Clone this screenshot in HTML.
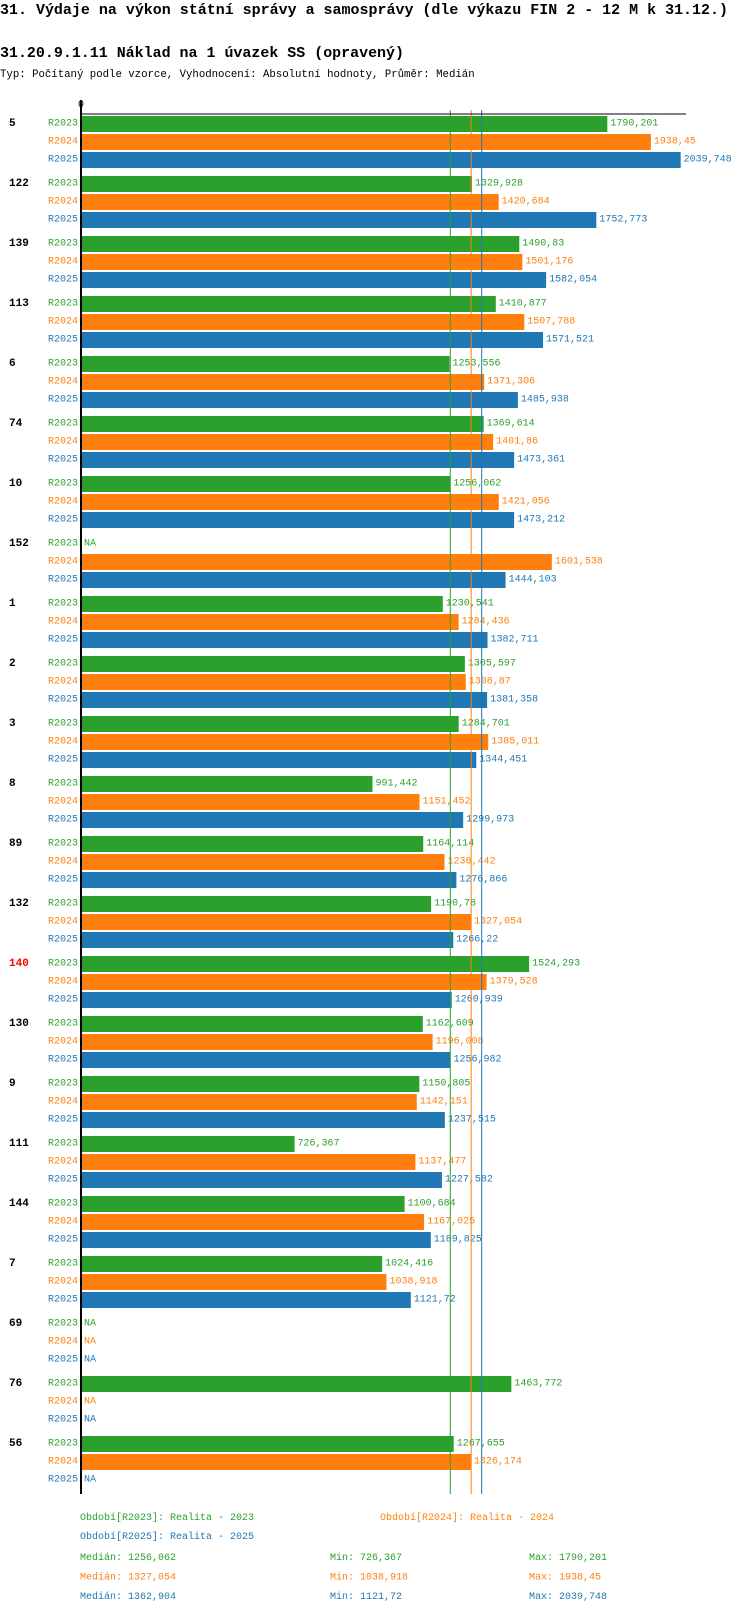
<!DOCTYPE html>
<html><head><meta charset="utf-8"><style>
html,body{margin:0;padding:0;background:#fff;}
svg{display:block;font-family:"Liberation Mono","DejaVu Sans Mono",monospace;}
</style></head><body>
<svg id="chart" width="750" height="1614" viewBox="0 0 750 1614">
<text x="0" y="14" font-size="15" font-weight="bold" textLength="728" lengthAdjust="spacingAndGlyphs">31. Výdaje na výkon státní správy a samosprávy (dle výkazu FIN 2 - 12 M k 31.12.)</text>
<text x="0" y="57" font-size="15" font-weight="bold" textLength="404" lengthAdjust="spacingAndGlyphs">31.20.9.1.11 Náklad na 1 úvazek SS (opravený)</text>
<text x="0" y="77" font-size="10.7">Typ: Počítaný podle vzorce, Vyhodnocení: Absolutní hodnoty, Průměr: Medián</text>
<text x="81" y="107" font-size="10" text-anchor="middle">0</text>
<g id="bars"></g>
<g id="legend"></g>
</svg>
<script>
const groups=["5","122","139","113","6","74","10","152","1","2","3","8","89","132","140","130","9","111","144","7","69","76","56"];
const r2023=[1790.201,1329.928,1490.83,1410.877,1253.556,1369.614,1256.062,null,1230.541,1305.597,1284.701,991.442,1164.114,1190.78,1524.293,1162.609,1150.805,726.367,1100.684,1024.416,null,1463.772,1267.655];
const r2024=[1938.45,1420.684,1501.176,1507.788,1371.306,1401.86,1421.056,1601.538,1284.436,1308.87,1385.011,1151.452,1236.442,1327.054,1379.528,1196.008,1142.151,1137.477,1167.025,1038.918,null,null,1326.174];
const r2025=[2039.748,1752.773,1582.054,1571.521,1485.938,1473.361,1473.212,1444.103,1382.711,1381.358,1344.451,1299.973,1276.866,1266.22,1260.939,1256.982,1237.515,1227.582,1189.825,1121.72,null,null,null];
const seriesNames=["R2023","R2024","R2025"];
const medians=[1256.062,1327.054,1362.904];
const mins=[726.367,1038.918,1121.72];
const maxs=[1790.201,1938.45,2039.748];
const highlighted=["140"];

const colors=["#2ca02c","#ff7f0e","#1f77b4"];
const X0=81,SCALE=0.294,TOP=116,GROUP=60,ROW=18,BARH=16;
const xs=v=>X0+v*SCALE;
const NS="http://www.w3.org/2000/svg";
const g=document.getElementById('bars');
const leg=document.getElementById('legend');
function mk(tag,attrs,parent){const e=document.createElementNS(NS,tag);for(const k in attrs)e.setAttribute(k,attrs[k]);parent.appendChild(e);return e;}
const fmt=v=>String(v).replace('.',',');
const series=[r2023,r2024,r2025];
const bottom=TOP+groups.length*GROUP-2;

groups.forEach((name,gi)=>{
  const gy=TOP+gi*GROUP;
  const t=mk('text',{x:9,y:gy+8,'font-size':11,'font-weight':'bold','dominant-baseline':'central',fill:highlighted.includes(name)?'#ff0000':'#000'},g);
  t.textContent=name;
  
  
  series.forEach((arr,si)=>{
    const y=gy+si*ROW;
    const lab=mk('text',{x:78,y:y+8,'font-size':10,'text-anchor':'end','dominant-baseline':'central',fill:colors[si]},g);
    lab.textContent=seriesNames[si];
    
    
    const v=arr[gi];
    if(v==null){
      const na=mk('text',{x:84,y:y+8,'font-size':10,'dominant-baseline':'central',fill:colors[si]},g);
      na.textContent='NA';
      
      
    }else{
      const r=mk('rect',{x:X0,y:y,width:xs(v)-X0,height:BARH,fill:colors[si]},g);
      
      
      const vl=mk('text',{x:xs(v)+3,y:y+8,'font-size':10,'dominant-baseline':'central',fill:colors[si]},g);
      vl.textContent=fmt(v);
      
      
    }
  });
});
medians.forEach((m,i)=>{
  const l=mk('line',{x1:xs(m),x2:xs(m),y1:TOP-6,y2:bottom,stroke:colors[i],'stroke-width':1},g);
  
  
});
const ax=mk('line',{x1:81,x2:81,y1:100,y2:bottom,stroke:'#000','stroke-width':2},g);


const tl=mk('line',{x1:80,x2:686,y1:114,y2:114,stroke:'#000','stroke-width':1},g);



const legItems=[[80,1520,0,"Období[R2023]: Realita - 2023"],[380,1520,1,"Období[R2024]: Realita - 2024"],[80,1539,2,"Období[R2025]: Realita - 2025"]];
legItems.forEach(it=>{
  const t=mk('text',{x:it[0],y:it[1],'font-size':10,fill:colors[it[2]]},leg);
  t.textContent=it[3];
  
  
});
[0,1,2].forEach(i=>{
  const y=1560+i*19.5;
  [[80,"Medián: "+fmt(medians[i]),'median'],[330,"Min: "+fmt(mins[i]),'min'],[529,"Max: "+fmt(maxs[i]),'max']].forEach(c=>{
    const t=mk('text',{x:c[0],y:y,'font-size':10,fill:colors[i]},leg);
    t.textContent=c[1];
    
    
  });
});
</script>
</body></html>
